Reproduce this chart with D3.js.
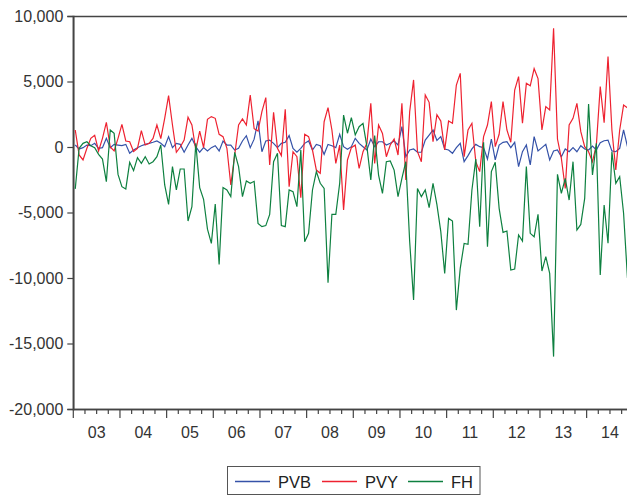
<!DOCTYPE html>
<html><head><meta charset="utf-8">
<script src="https://cdn.jsdelivr.net/npm/d3@7"></script>
<style>body{margin:0;background:#fff;}svg{display:block;font-family:"Liberation Sans",Arial,sans-serif;}</style>
</head><body>
<svg id="chart" width="627" height="498"></svg>
<script>
const startYear = 2003, endYear = 2015;
const yearLabels = ["03","04","05","06","07","08","09","10","11","12","13","14"];
const yTicks = [-20000,-15000,-10000,-5000,0,5000,10000];
const seriesNames = ["PVB","PVY","FH"];
const seriesColors = ["#3552a8","#ee2230","#0e8040"];

const PVB = [150,-150,-50,150,100,280,-100,-50,660,-50,200,150,100,200,-480,-230,-50,100,200,280,360,460,280,
25,790,-50,280,200,-400,150,660,25,-400,-50,-300,-50,100,-300,460,150,150,-230,-100,460,860,-50,600,
1990,-360,460,530,280,-50,280,360,870,-100,-400,-100,280,460,-230,200,100,-560,200,100,-50,970,25,-170,
25,660,280,25,-230,610,25,400,400,150,280,460,150,1550,-740,-230,-150,-400,-400,530,910,1300,500,
790,-150,-230,-480,-50,280,-1120,-660,-150,200,25,-50,-920,610,-990,150,360,400,-50,360,-1500,-360,150,-1370,
790,-300,-50,200,-990,-300,-230,-740,-150,-360,-50,-360,100,-150,-230,76,-230,330,480,530,-300,-360,-100,1300,25];

const PVY = [1300,-610,-990,-100,660,900,-300,660,1880,0,-300,660,1730,460,400,-350,-100,1250,150,280,660,1680,640,
2190,3920,1680,-400,0,530,2270,1680,-230,1220,-50,2110,2320,2190,970,790,-100,-2900,-610,1680,2140,1680,3970,1400,
1220,2700,3770,-1370,2650,-100,-660,2880,-3030,-360,-740,-3870,970,790,-230,-1760,-2010,1930,3000,1300,-1250,150,-4810,-990,
-50,150,-1630,-360,280,3330,-1250,1680,1040,-740,150,610,-610,3330,-2520,2700,5120,-360,-1120,3970,3410,400,2460,
1980,-230,1980,1810,4730,5620,-740,1300,1810,-1120,-1880,790,1680,3460,25,970,3460,1300,360,4350,5370,1810,4860,4670,
5980,5220,1300,3080,2830,9060,610,-860,-3160,1680,2190,3330,1170,25,-360,-1120,150,4610,1860,6900,1300,-1760,1300,3200,2980];

const FH = [-3200,-100,280,400,100,-50,-560,-920,-2650,1300,1040,-2090,-3030,-3200,-1170,-1800,-810,-1250,-740,-1300,-1120,-740,150,
-2900,-4380,-1500,-3280,-1680,-1680,-5650,-4550,280,-3100,-3990,-6270,-7360,-4350,-8960,-3100,-3280,-3790,-410,-1500,-3790,-2590,-2770,-2620,
-5830,-6080,-6000,-5140,-1120,-480,-6000,-6080,-3280,-3410,-4550,-230,-7230,-6590,-3280,-1880,-2770,-3160,-10360,-5140,-5140,-2770,2440,1050,
2240,920,1550,1810,25,-2520,870,-2140,-3540,-1120,-1070,-1760,-3790,-2390,-1120,-7230,-11680,-3160,-3790,-3280,-4630,-2770,-4400,
-6460,-9650,-5450,-5650,-12450,-9260,-7360,-7430,-3280,-920,-6080,360,-7610,-1880,-1170,-4680,-6520,-6410,-9390,-9320,-6720,-7180,-1500,-6590,
-6850,-5140,-9470,-8370,-9650,-16000,-2090,-3540,-2390,-4050,-1120,-6340,-5910,-3920,3280,-2140,280,-9770,-4430,-7350,-360,-2770,-2260,-5060,-10000];

const svg = d3.select("#chart");
const L = 73.3, T = 16, B = 409, R = 633.3;
const x = d3.scaleLinear().domain([startYear, endYear]).range([L, R]);
const y = d3.scaleLinear().domain([-20000, 10000]).range([B, T]);
const tOf = i => startYear + (i + 0.5) / 12;
const axisCol = "#444";

// frame
svg.append("rect").attr("x", L).attr("y", T + 0.5).attr("width", R - L).attr("height", B - T)
  .attr("fill", "none").attr("stroke", axisCol).attr("stroke-width", 1.5);

// y axis
const fmt = d3.format(",");
const yAxis = svg.append("g").attr("transform", `translate(${L},0)`)
  .call(d3.axisLeft(y).tickValues(yTicks).tickSize(6).tickPadding(4)
    .tickFormat(d => (d < 0 ? "-" : "") + fmt(Math.abs(d))));
yAxis.select(".domain").attr("stroke", axisCol).attr("stroke-width", 1.5);
yAxis.selectAll(".tick line").attr("stroke", axisCol).attr("stroke-width", 1.2);
yAxis.selectAll("text").attr("font-size", 16).attr("fill", "#333").attr("font-family", "Liberation Sans, Arial, sans-serif");

// x axis
const quarters = d3.range(startYear, endYear + 0.001, 0.25);
const xg = svg.append("g").attr("transform", `translate(0,${B})`);
xg.append("line").attr("x1", L).attr("x2", R).attr("y1", 0.5).attr("y2", 0.5).attr("stroke", axisCol).attr("stroke-width", 1.5);
xg.selectAll("line.q").data(quarters).enter().append("line").attr("class", "q")
  .attr("x1", d => x(d)).attr("x2", d => x(d)).attr("y1", 0)
  .attr("y2", d => Math.abs(d - Math.round(d)) < 1e-6 ? 9 : 5)
  .attr("stroke", axisCol).attr("stroke-width", 1.2);
xg.selectAll("text").data(yearLabels).enter().append("text")
  .attr("x", (d, i) => x(startYear + i + 0.5)).attr("y", 29)
  .attr("text-anchor", "middle").attr("font-size", 16).attr("fill", "#333").text(d => d);

// lines
svg.append("clipPath").attr("id", "c").append("rect")
  .attr("x", L).attr("y", T).attr("width", R - L).attr("height", B - T);
const line = d3.line().x((d, i) => x(tOf(i))).y(d => y(d));
[PVB, PVY, FH].forEach((s, k) => {
  svg.append("path").datum(s).attr("d", line).attr("fill", "none")
    .attr("stroke", seriesColors[k]).attr("stroke-width", 1.2).attr("clip-path", "url(#c)");
});

// legend
const lg = svg.append("g");
lg.append("rect").attr("x", 227.5).attr("y", 466.5).attr("width", 252.5).attr("height", 28)
  .attr("fill", "none").attr("stroke", "#555").attr("stroke-width", 1);
const lx = [235, 322, 408];
seriesNames.forEach((n, k) => {
  lg.append("line").attr("x1", lx[k]).attr("x2", lx[k] + 35).attr("y1", 481.5).attr("y2", 481.5)
    .attr("stroke", seriesColors[k]).attr("stroke-width", 1.5);
  lg.append("text").attr("x", lx[k] + 43).attr("y", 487.5).attr("font-size", 16.5).attr("fill", "#222").text(n);
});
</script>
</body></html>
